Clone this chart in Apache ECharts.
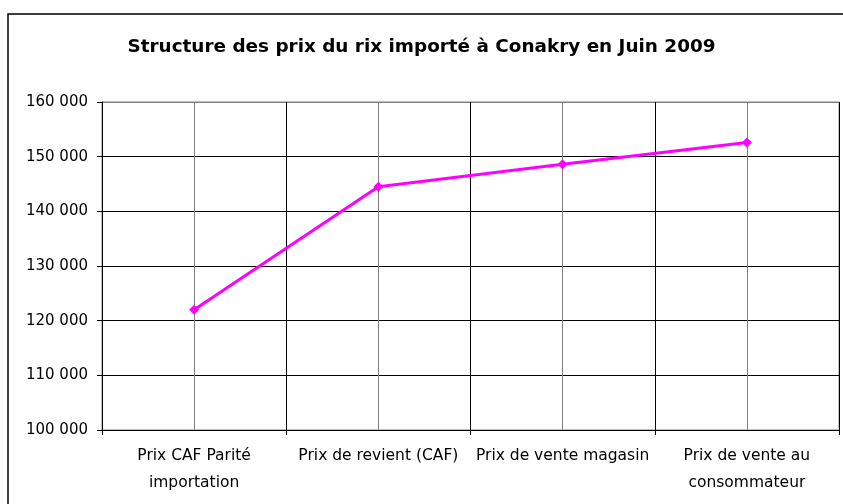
<!DOCTYPE html>
<html><head><meta charset="utf-8">
<script src="https://cdn.jsdelivr.net/npm/echarts@6/dist/echarts.min.js"></script>
<style>html,body{margin:0;padding:0;background:#fff}#c{width:843px;height:504px}</style>
</head><body><div id="c"></div>
<script>
const titleText = "Structure des prix du rix importé à Conakry en Juin 2009";
const categories = ["Prix CAF Parité\nimportation", "Prix de revient (CAF)", "Prix de vente magasin", "Prix de vente au\nconsommateur"];
const prices = [122000, 144500, 148600, 152600];
const yMin = 100000, yMax = 160000, yStep = 10000;

const chart = echarts.init(document.getElementById('c'), null, {renderer: 'canvas'});
const font = '"DejaVu Sans", sans-serif';
chart.setOption({
  animation: false,
  backgroundColor: '#fff',
  title: {
    text: titleText, left: 'center', top: 33,
    textStyle: {fontFamily: font, fontSize: 18.4, fontWeight: 'bold', color: '#000'}
  },
  graphic: [{
    type: 'rect', shape: {x: 8, y: 14, width: 1000, height: 1000},
    style: {fill: 'none', stroke: '#000', lineWidth: 1.5}, silent: true, z: -1
  }],
  grid: {left: 102, right: 4, top: 102, bottom: 74, show: true, borderColor: '#808080', borderWidth: 1, backgroundColor: 'transparent'},
  xAxis: [{
    type: 'category', data: categories, boundaryGap: true,
    axisLine: {lineStyle: {color: '#000', width: 1}},
    axisTick: {show: true, alignWithLabel: false, length: 5, lineStyle: {color: '#000'}},
    axisLabel: {fontFamily: font, fontSize: 15.5, color: '#000', margin: 12, lineHeight: 27, interval: 0},
    splitLine: {show: false}
  }, {
    type: 'value', min: 0, max: 8, interval: 1, position: 'bottom',
    axisLine: {show: false}, axisTick: {show: false}, axisLabel: {show: false},
    splitLine: {show: true, lineStyle: {color: ['#000', '#808080'], width: 1}}
  }],
  yAxis: {
    type: 'value', min: yMin, max: yMax, interval: yStep,
    axisLine: {show: true, lineStyle: {color: '#000'}},
    axisTick: {show: true, length: 5, lineStyle: {color: '#000'}},
    axisLabel: {fontFamily: font, fontSize: 15, color: '#000', margin: 14,
      formatter: v => String(v).replace(/\B(?=(\d{3})+(?!\d))/g, ' ')},
    splitLine: {show: true, lineStyle: {color: ['#000','#000','#000','#000','#000','#000','#808080'], width: 1}}
  },
  series: [{
    type: 'line', data: prices, xAxisIndex: 0,
    symbol: 'diamond', symbolSize: 10,
    lineStyle: {color: '#FF00FF', width: 3},
    itemStyle: {color: '#FF00FF'}
  }]
});
</script></body></html>
